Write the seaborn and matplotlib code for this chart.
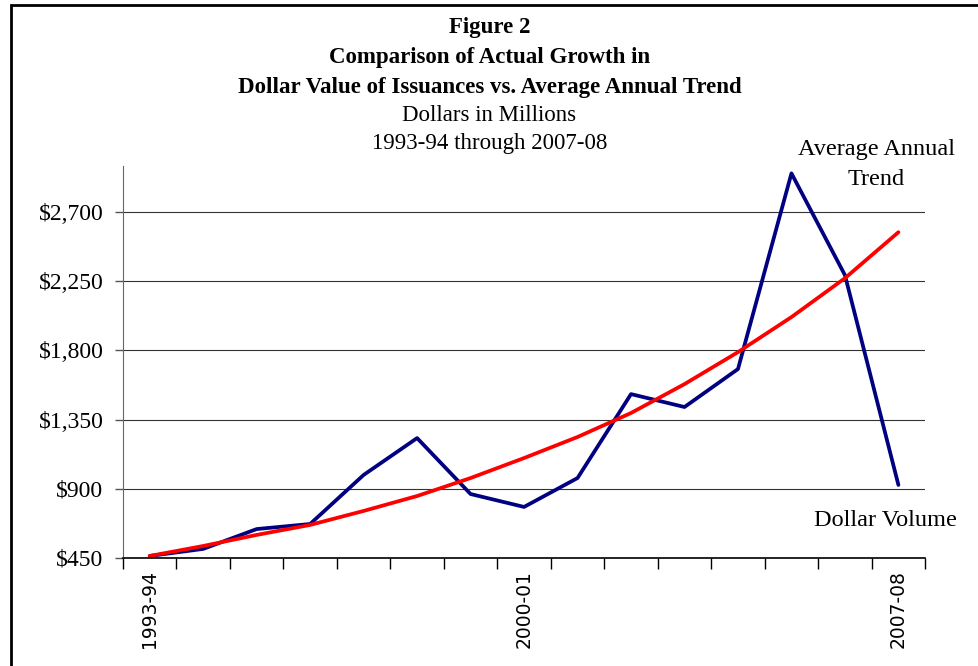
import matplotlib
matplotlib.use('Agg')
import matplotlib.pyplot as plt
import seaborn as sns
import pandas as pd
from matplotlib.ticker import FixedLocator, FuncFormatter
from matplotlib.patches import Rectangle

# values (dollars in millions)
years = ['1993-94', '1994-95', '1995-96', '1996-97', '1997-98', '1998-99', '1999-00',
         '2000-01', '2001-02', '2002-03', '2003-04', '2004-05', '2005-06', '2006-07', '2007-08']
dollar_volume = [463, 509, 638, 671, 990, 1230, 866, 782, 970, 1516, 1432, 1679, 2952, 2290, 925]
annual_trend = [463, 528, 600, 665, 756, 853, 970, 1100, 1237, 1393, 1581, 1789, 2017, 2270, 2569]
shown_labels = ['1993-94', '2000-01', '2007-08']

df = pd.DataFrame({'idx': range(len(years)), 'year': years,
                   'volume': dollar_volume, 'trend': annual_trend})

sns.set_style('white')
plt.rcParams['font.family'] = ['Liberation Serif', 'DejaVu Serif']
plt.rcParams['text.color'] = 'black'
plt.rcParams['xtick.color'] = 'black'
plt.rcParams['ytick.color'] = 'black'

fig = plt.figure(figsize=(9.79, 6.66), dpi=100)
ax = fig.add_axes([0.1256, 0.1622, 0.8194, 0.5886])

sns.lineplot(data=df, x='idx', y='volume', color='#000080', linewidth=2.7, ax=ax)
sns.lineplot(data=df, x='idx', y='trend', color='#ff0000', linewidth=2.7, ax=ax)

ax.set_xlim(-0.5, len(years) - 0.5)
ax.set_ylim(450, 3000)
ax.set_yticks([450, 900, 1350, 1800, 2250, 2700])
ax.yaxis.set_major_formatter(FuncFormatter(lambda v, p: '${:,.0f}'.format(v)))
ax.grid(axis='y', color='#333333', linewidth=0.8)
ax.set_axisbelow(True)

label_pos = [years.index(s) for s in shown_labels]
ax.set_xticks(label_pos)
ax.set_xticklabels(shown_labels, rotation=90, fontsize=13.5, family='DejaVu Sans')
ax.xaxis.set_minor_locator(FixedLocator([i - 0.5 for i in range(len(years) + 1)]))
ax.tick_params(axis='x', which='major', length=0, pad=9)
ax.tick_params(axis='x', which='minor', length=8, width=1, color='black', bottom=True)
ax.tick_params(axis='y', length=6, width=1, color='#555555', labelsize=17, left=True, pad=8)
ax.set_xlabel('')
ax.set_ylabel('')

for s in ['top', 'right']:
    ax.spines[s].set_visible(False)
ax.spines['left'].set_color('#666666')
ax.spines['bottom'].set_color('black')
ax.spines['bottom'].set_linewidth(1.2)

# title block
fig.text(0.5, 0.958, 'Figure 2', ha='center', va='center', fontsize=16.5, fontweight='bold')
fig.text(0.5, 0.913, 'Comparison of Actual Growth in', ha='center', va='center', fontsize=16.5, fontweight='bold')
fig.text(0.5, 0.868, 'Dollar Value of Issuances vs. Average Annual Trend', ha='center', va='center',
         fontsize=16.5, fontweight='bold')
fig.text(0.5, 0.826, 'Dollars in Millions', ha='center', va='center', fontsize=16.5)
fig.text(0.5, 0.785, '1993-94 through 2007-08', ha='center', va='center', fontsize=16.5)

# series labels
fig.text(0.895, 0.775, 'Average Annual', ha='center', va='center', fontsize=17.5)
fig.text(0.895, 0.730, 'Trend', ha='center', va='center', fontsize=17.5)
fig.text(0.9775, 0.219, 'Dollar Volume', ha='right', va='center', fontsize=17.5)

# frame around the whole picture
fig.patches.append(Rectangle((0.0112, -0.05), 1.05, 1.0425, transform=fig.transFigure,
                             fill=False, edgecolor='black', linewidth=2))

fig.savefig('out.png', dpi=100)
